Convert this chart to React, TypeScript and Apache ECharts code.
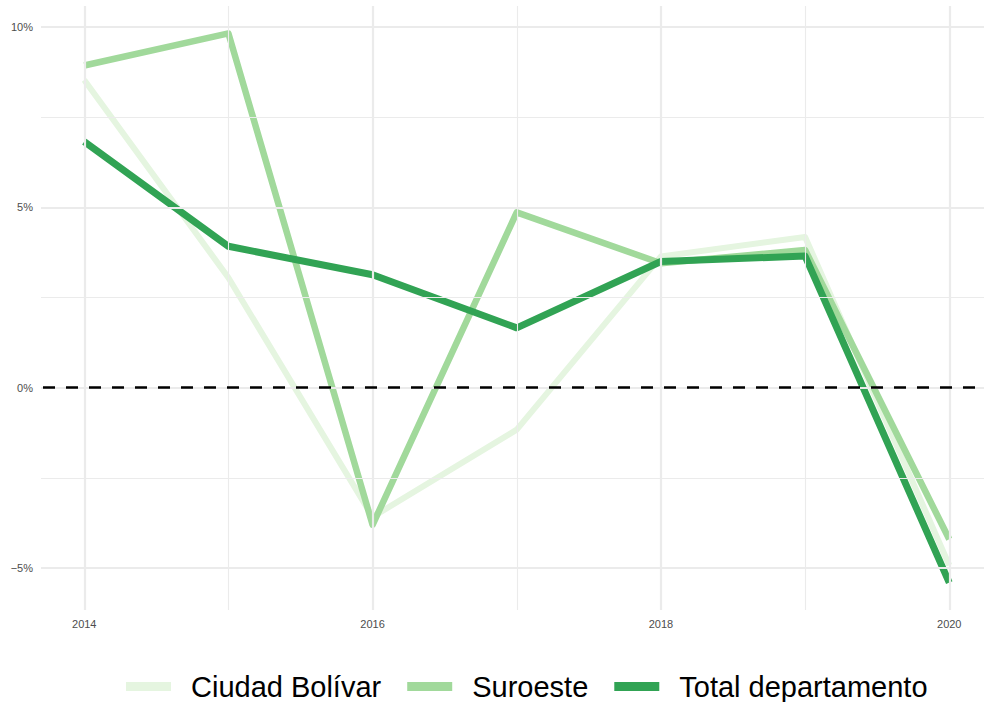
import React, { useEffect, useRef } from "react";
import * as echarts from "echarts";

const years = [2014, 2015, 2016, 2017, 2018, 2019, 2020];
const ciudadBolivar = [8.53, 3.05, -3.58, -1.16, 3.64, 4.18, -4.92];
const suroeste = [8.93, 9.82, -3.8, 4.86, 3.45, 3.82, -4.2];
const totalDepartamento = [6.82, 3.92, 3.13, 1.66, 3.5, 3.65, -5.4];

const seriesNames = ["Ciudad Bolívar", "Suroeste", "Total departamento"];
const seriesColors = ["#e5f5e0", "#a1d99b", "#31a354"];

const xTickLabels = [2014, 2016, 2018, 2020];
const xMinorGrid = [2015, 2017, 2019];
const yTickLabels = [-5, 0, 5, 10];
const yMinorGrid = [-2.5, 2.5, 7.5];

const FONT = "'Liberation Sans', Arial, Helvetica, sans-serif";
const GRID_COLOR = "#ebebeb";

export default function App() {
  const ref = useRef<HTMLDivElement>(null);

  useEffect(() => {
    if (!ref.current) return;
    const chart = echarts.init(ref.current, null, { renderer: "svg" });

    const toPairs = (vals: number[]) => years.map((y, i) => [y, vals[i]]);
    const valueSets = [ciudadBolivar, suroeste, totalDepartamento];
    const widths = [6, 6.5, 7];

    const gridLines: any[] = [
      ...xTickLabels.map((v) => ({ xAxis: v, lineStyle: { width: 2.2 } })),
      ...xMinorGrid.map((v) => ({ xAxis: v, lineStyle: { width: 1.1 } })),
      ...yTickLabels.map((v) => ({ yAxis: v, lineStyle: { width: 2.2 } })),
      ...yMinorGrid.map((v) => ({ yAxis: v, lineStyle: { width: 1.1 } })),
    ];

    const option: any = {
      animation: false,
      backgroundColor: "#ffffff",
      grid: { left: 41, right: 0, top: 6, bottom: 92, containLabel: false },
      xAxis: {
        type: "value",
        min: 2013.7,
        max: 2020.241,
        axisLine: { show: false },
        axisTick: { show: false },
        splitLine: { show: false },
        axisLabel: {
          customValues: xTickLabels,
          formatter: (v: number) => String(v),
          color: "#4d4d4d",
          fontSize: 11,
          fontFamily: FONT,
          margin: 8,
        },
      },
      yAxis: {
        type: "value",
        min: -6.16,
        max: 10.58,
        axisLine: { show: false },
        axisTick: { show: false },
        splitLine: { show: false },
        axisLabel: {
          customValues: yTickLabels,
          formatter: (v: number) => (v < 0 ? "\u2212" : "") + Math.abs(v) + "%",
          color: "#4d4d4d",
          fontSize: 11,
          fontFamily: FONT,
          margin: 8,
        },
      },
      legend: {
        data: seriesNames,
        left: 121,
        top: 667,
        icon: "rect",
        itemWidth: 45,
        itemHeight: 9,
        itemGap: 26,
        textStyle: {
          fontSize: 29,
          fontFamily: FONT,
          color: "#000000",
          padding: [0, 0, 0, 15],
        },
      },
      series: [
        {
          name: "__grid",
          type: "line",
          data: [],
          silent: true,
          z: 0,
          markLine: {
            silent: true,
            symbol: ["none", "none"],
            label: { show: false },
            lineStyle: { color: GRID_COLOR, type: "solid" },
            emphasis: { disabled: true },
            data: gridLines,
          },
        },
        ...seriesNames.map((name, i) => ({
          name,
          type: "line",
          data: toPairs(valueSets[i]),
          showSymbol: false,
          symbol: "none",
          z: 2 + i,
          color: seriesColors[i],
          lineStyle: {
            color: seriesColors[i],
            width: widths[i],
            cap: "butt",
            join: "round",
          },
          emphasis: { disabled: true },
        })),
        {
          name: "__zero",
          type: "line",
          data: [],
          silent: true,
          z: 10,
          markLine: {
            silent: true,
            symbol: ["none", "none"],
            label: { show: false },
            emphasis: { disabled: true },
            lineStyle: {
              color: "#000000",
              width: 2.6,
              type: [12, 11],
              dashOffset: -2,
            },
            data: [{ yAxis: 0 }],
          },
        },
      ],
    };

    chart.setOption(option);
    return () => chart.dispose();
  }, []);

  return (
    <div
      ref={ref}
      style={{ position: "fixed", left: 0, top: 0, width: 984, height: 702 }}
    />
  );
}
